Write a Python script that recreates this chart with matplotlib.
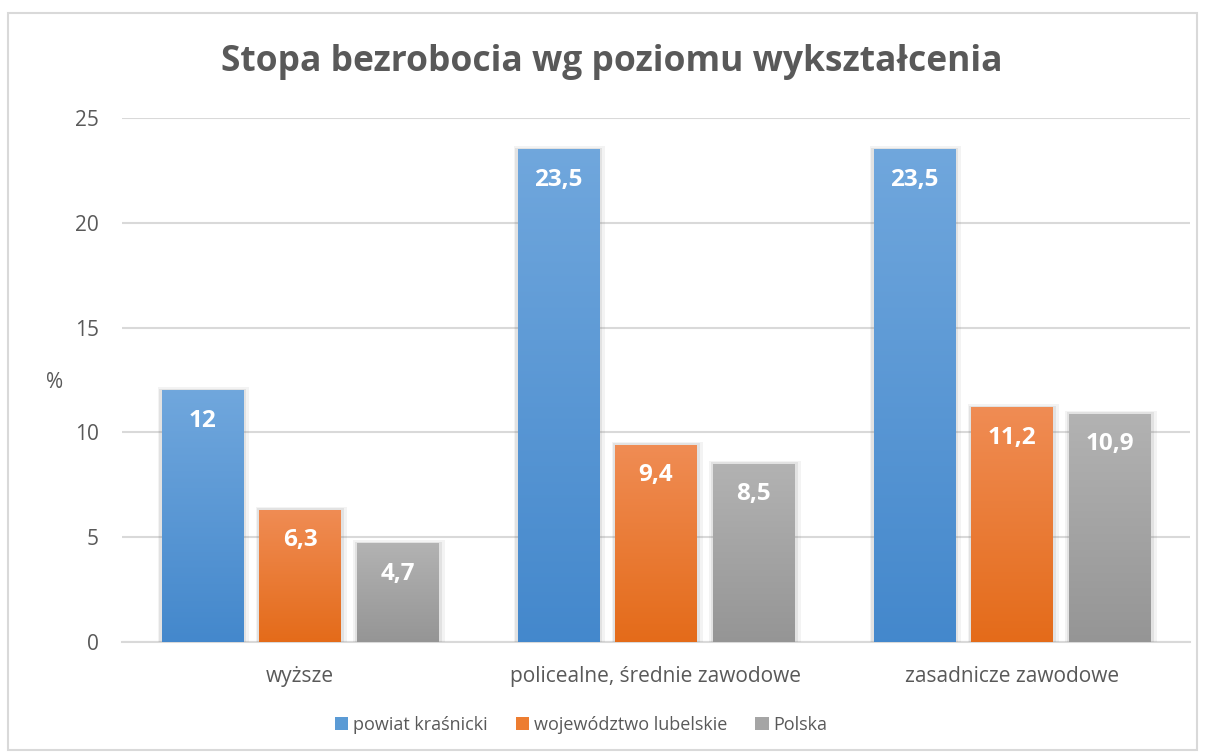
import matplotlib
matplotlib.use("Agg")
import matplotlib.pyplot as plt
import numpy as np
from matplotlib.patches import Rectangle
from matplotlib.colors import LinearSegmentedColormap

plt.rcParams['font.family'] = ['Open Sans', 'DejaVu Sans']

categories = ["wyższe", "policealne, średnie zawodowe", "zasadnicze zawodowe"]
series_names = ["powiat kraśnicki", "województwo lubelskie", "Polska"]
powiat = [12, 23.5, 23.5]
wojewodztwo = [6.3, 9.4, 11.2]
polska = [4.7, 8.5, 10.9]
labels_powiat = ["12", "23,5", "23,5"]
labels_woj = ["6,3", "9,4", "11,2"]
labels_pl = ["4,7", "8,5", "10,9"]
yticks = [0, 5, 10, 15, 20, 25]

series = [powiat, wojewodztwo, polska]
series_labels = [labels_powiat, labels_woj, labels_pl]
grad_colors = [
    ((0.44, 0.655, 0.866), (0.266, 0.533, 0.80)),
    ((0.94, 0.55, 0.33), (0.894, 0.42, 0.10)),
    ((0.70, 0.70, 0.70), (0.585, 0.585, 0.585)),
]
legend_colors = ["#5B9BD5", "#ED7D31", "#A5A5A5"]
text_gray = "#595959"

fig = plt.figure(figsize=(12.05, 7.56), dpi=100)
fig.patch.set_facecolor("white")
# outer chart border
fig.add_artist(Rectangle((8/1205, 1-750/756), (1197-8)/1205, (750-13)/756,
                         transform=fig.transFigure, fill=False,
                         edgecolor="#D9D9D9", linewidth=1.5))

ax = fig.add_axes([122/1205, 1-642/756, (1190-122)/1205, (642-118)/756])
ax.set_xlim(-0.5, 2.5)
ax.set_ylim(0, 25)

x = np.arange(len(categories))
width = 0.228
step = 0.275
offsets = [-step, 0, step]

for si, (vals, labs) in enumerate(zip(series, series_labels)):
    top_c, bot_c = grad_colors[si]
    cmap = LinearSegmentedColormap.from_list("g%d" % si, [bot_c, top_c])
    xs = x + offsets[si]
    bars = ax.bar(xs, vals, width=width, color=legend_colors[si], zorder=3,
                  linewidth=0)
    for b, v, lab in zip(bars, vals, labs):
        x0 = b.get_x()
        w = b.get_width()
        # soft shadow
        for k, a in [(0.018, 0.09), (0.010, 0.14)]:
            sh = Rectangle((x0 - k*0.6, 0), w + k*1.6, v + k*8,
                           facecolor="#808080", alpha=a, linewidth=0, zorder=2)
            ax.add_patch(sh)
        grad = np.linspace(0, 1, 256).reshape(-1, 1)
        im = ax.imshow(grad, extent=[x0, x0 + w, 0, v], origin="lower",
                       cmap=cmap, aspect="auto", zorder=4)
        im.set_clip_path(b)
        ax.text(x0 + w/2, v - 1.45, lab, ha="center", va="center",
                color="white", fontsize=17.5, fontweight="bold", zorder=5)

ax.set_xlim(-0.5, 2.5)
ax.set_ylim(0, 25)
ax.set_yticks(yticks)
ax.set_xticks(x)
ax.set_xticklabels(categories)
ax.tick_params(axis="both", length=0, colors=text_gray)
ax.tick_params(axis="y", pad=16.5, labelsize=15)
ax.tick_params(axis="x", pad=17, labelsize=15)
ax.yaxis.grid(True, color="#D9D9D9", linewidth=1.5, zorder=0)
ax.set_axisbelow(True)
for s in ["top", "right", "left"]:
    ax.spines[s].set_visible(False)
ax.spines["bottom"].set_color("#D9D9D9")
ax.spines["bottom"].set_linewidth(1.5)
ax.spines["bottom"].set_zorder(1)

fig.text(55/1205, 1-383/756, "%", ha="center", va="center",
         color=text_gray, fontsize=15)
fig.text(612/1205, 1-62/756, "Stopa bezrobocia wg poziomu wykształcenia",
         ha="center", va="center", color=text_gray, fontsize=25.5,
         fontweight="bold")

handles = [Rectangle((0, 0), 1, 1, facecolor=c) for c in legend_colors]
fig.legend(handles, series_names, loc="center", bbox_to_anchor=(581/1205, 1-725/756),
           ncol=3, frameon=False, fontsize=13, labelcolor=text_gray,
           handlelength=0.75, handleheight=0.75, handletextpad=0.25,
           columnspacing=1.55)

fig.savefig("out.png", dpi=100, facecolor="white")
